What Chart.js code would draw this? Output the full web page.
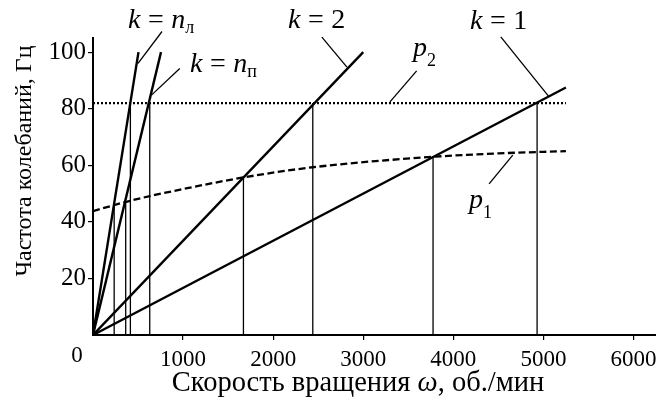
<!DOCTYPE html>
<html>
<head>
<meta charset="utf-8">
<script src="https://cdn.jsdelivr.net/npm/chart.js@4.4.1/dist/chart.umd.min.js"></script>
<style>
  html, body { margin: 0; padding: 0; background: #fff; }
  #wrap { width: 656px; height: 403px; position: relative; }
</style>
</head>
<body>
<div id="wrap"><canvas id="freqChart"></canvas></div>
<script>
// Rotation speed ω, rpm  /  frequency, Hz
const kOneX = [0, 5250];
const kOneY = [0, 87.5];
const kTwoX = [0, 3000];
const kTwoY = [0, 100];
const nLX = [0, 505];
const nLY = [0, 100];
const nPX = [0, 755];
const nPY = [0, 100];

// natural frequencies
const p1X = [0, 370, 630, 1000, 1670, 2440, 3775, 4500, 5250];
const p1Y = [43.8, 47.1, 49.1, 51.6, 55.7, 59.3, 63, 64.2, 65];
const p2X = [0, 5250];
const p2Y = [82, 82];

// resonance drop lines (intersection points)
const dropX = [235, 363, 415, 630, 1670, 2440, 3775, 4930];
const dropY = [46, 47, 82, 82, 55.7, 82, 63, 82];

const xTicks = [1000, 2000, 3000, 4000, 5000, 6000];
const yTicks = [20, 40, 60, 80, 100];

const serif = '"Liberation Serif", "Times New Roman", serif';

function pts(xs, ys) {
  return xs.map((x, i) => ({ x, y: ys[i] }));
}

function lineSet(xs, ys, extra) {
  return Object.assign({
    data: pts(xs, ys),
    borderColor: '#000',
    borderWidth: 2.4,
    pointRadius: 0,
    fill: false,
    tension: 0
  }, extra || {});
}

const datasets = [
  lineSet(kOneX, kOneY),
  lineSet(kTwoX, kTwoY),
  lineSet(nLX, nLY),
  lineSet(nPX, nPY),
  lineSet(p1X, p1Y, { borderDash: [7, 3.5], cubicInterpolationMode: 'monotone', borderWidth: 2.3 }),
  lineSet(p2X, p2Y, { borderDash: [2, 2], borderWidth: 2.3 })
];
dropX.forEach((x, i) => {
  datasets.push(lineSet([x, x], [0, dropY[i]], { borderWidth: 1.3 }));
});

// leader lines and labels, in data units
const leaders = [
  [766, 107.3, 500, 96],
  [963, 94.2, 649, 84.8],
  [2541, 105.3, 2819, 94.7],
  [4527, 105.4, 5063, 84.2],
  [3593, 93.4, 3297, 82.4],
  [4397, 53.4, 4660, 63.6]
];

const labels = [
  { main: 'k = n', sub: 'л', x: 128, y: 28 },
  { main: 'k = n', sub: 'п', x: 190, y: 72 },
  { main: 'k = 2', sub: '', x: 288, y: 28 },
  { main: 'k = 1', sub: '', x: 470, y: 29 },
  { main: 'p', sub: '2', x: 413, y: 56 },
  { main: 'p', sub: '1', x: 469, y: 208 }
];

const annotate = {
  id: 'annotate',
  afterDatasetsDraw(chart) {
    const { ctx, scales: { x, y } } = chart;
    ctx.save();
    ctx.strokeStyle = '#000';
    ctx.lineWidth = 1.3;
    leaders.forEach(l => {
      ctx.beginPath();
      ctx.moveTo(x.getPixelForValue(l[0]), y.getPixelForValue(l[1]));
      ctx.lineTo(x.getPixelForValue(l[2]), y.getPixelForValue(l[3]));
      ctx.stroke();
    });

    ctx.fillStyle = '#000';
    ctx.textBaseline = 'alphabetic';
    ctx.textAlign = 'left';
    labels.forEach(lb => {
      // italic letters, upright digits/sign
      let cx = lb.x;
      const parts = lb.main.split(/(\s|=|\d)/).filter(s => s !== '');
      parts.forEach(p => {
        const italic = /[a-z]/.test(p);
        ctx.font = (italic ? 'italic ' : '') + '28px ' + serif;
        if (p === ' ') { cx += 7.5; return; }
        ctx.fillText(p, cx, lb.y);
        cx += ctx.measureText(p).width;
      });
      if (lb.sub) {
        ctx.font = '18px ' + serif;
        ctx.fillText(lb.sub, cx, lb.y + (/\d/.test(lb.sub) ? 10 : 5));
      }
    });

    // origin label
    ctx.font = '23px ' + serif;
    ctx.textAlign = 'center';
    ctx.fillText('0', 77, 362);

    // axis titles
    const t1 = 'Скорость вращения ';
    const t2 = ', об./мин';
    ctx.font = '28.5px ' + serif;
    const w1 = ctx.measureText(t1).width, w3 = ctx.measureText(t2).width;
    ctx.font = 'italic 28.5px ' + serif;
    const w2 = ctx.measureText('ω').width;
    const sx = 358 - (w1 + w2 + w3) / 2;
    ctx.textAlign = 'left';
    ctx.font = '28.5px ' + serif;
    ctx.fillText(t1, sx, 391);
    ctx.font = 'italic 28.5px ' + serif;
    ctx.fillText('ω', sx + w1, 391);
    ctx.font = '28.5px ' + serif;
    ctx.fillText(t2, sx + w1 + w2, 391);

    ctx.translate(31, 161);
    ctx.rotate(-Math.PI / 2);
    ctx.textAlign = 'center';
    ctx.font = '24px ' + serif;
    ctx.fillText('Частота колебаний, Гц', 0, 0);
    ctx.restore();
  }
};

new Chart(document.getElementById('freqChart'), {
  type: 'line',
  data: { datasets },
  plugins: [annotate],
  options: {
    animation: false,
    responsive: true,
    maintainAspectRatio: false,
    layout: { padding: { left: 0, right: 0, top: 38, bottom: 0 } },
    plugins: { legend: { display: false }, tooltip: { enabled: false } },
    elements: { point: { radius: 0 } },
    scales: {
      x: {
        type: 'linear',
        min: 0,
        max: 6250,
        afterFit(s) { s.height = 68; s.paddingRight = 0; },
        afterBuildTicks(s) { s.ticks = xTicks.map(v => ({ value: v })); },
        ticks: { color: '#000', padding: 6, maxRotation: 0, font: { family: serif, size: 23 }, callback: v => String(v) },
        grid: { drawOnChartArea: false, color: '#000', tickLength: 5, lineWidth: 1.2 },
        border: { color: '#000', width: 2 }
      },
      y: {
        min: 0,
        max: 105,
        afterFit(s) { s.width = 93; },
        afterBuildTicks(s) { s.ticks = yTicks.map(v => ({ value: v })); },
        ticks: { color: '#000', padding: 2, font: { family: serif, size: 25 }, callback: v => String(v) },
        grid: { drawOnChartArea: false, color: '#000', tickLength: 5, lineWidth: 1.2 },
        border: { color: '#000', width: 2 }
      }
    }
  }
});
</script>
</body>
</html>
